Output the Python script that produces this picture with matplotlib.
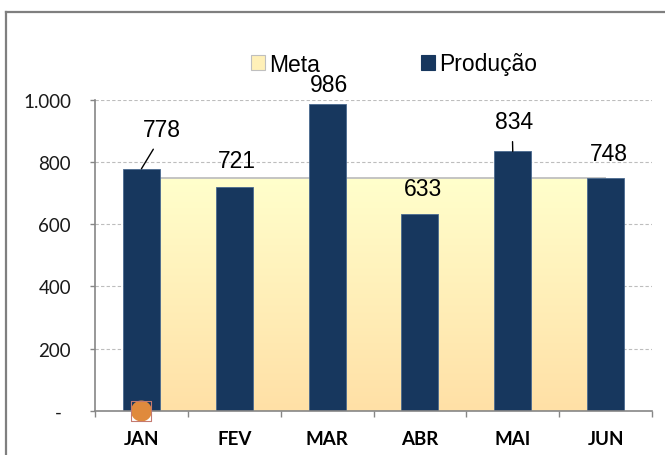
import matplotlib
matplotlib.use("Agg")
import matplotlib.pyplot as plt
import numpy as np
from matplotlib.patches import Patch
from matplotlib.lines import Line2D
from matplotlib.colors import LinearSegmentedColormap

# ---- data ----
categories = ["JAN", "FEV", "MAR", "ABR", "MAI", "JUN"]
producao = [778, 721, 986, 633, 834, 748]
meta = [750, 750, 750, 750, 750, 750]
ytick_values = [0, 200, 400, 600, 800, 1000]
ytick_labels = ["-  ", "200", "400", "600", "800", "1.000"]
marker_category = 0   # orange marker sits on JAN
marker_value = 0

# label offsets in pixels (dx, dy) relative to bar top
label_offsets = [(20.5, 39), (2.5, 26), (2, 20), (3, 25), (1.5, 30), (3, 25)]
leader = [True, False, False, False, True, False]

DPI = 100
fig = plt.figure(figsize=(6.65, 4.56), dpi=DPI)
W, H = 665, 456
ax = fig.add_axes([95 / W, 1 - 412 / H, (652 - 95) / W, (412 - 100.7) / H])

x = np.arange(len(categories))
ax.set_xlim(-0.5, len(categories) - 0.5)
ax.set_ylim(0, 1000)

# grid
for v in ytick_values[1:]:
    ax.axhline(v, color="#BDBDBD", lw=0.8, ls=(0, (3, 2)), zorder=0.5)

# meta area with vertical gradient
poly = ax.fill_between(x, 0, meta, color="none", lw=0, zorder=1)
cmap = LinearSegmentedColormap.from_list("g", ["#FFE0A6", "#FFFFCC"])
grad = np.linspace(0, 1, 256).reshape(-1, 1)
im = ax.imshow(grad, cmap=cmap, aspect="auto", origin="lower",
               extent=[x[0], x[-1], 0, max(meta)], zorder=1, interpolation="bilinear")
im.set_clip_path(poly.get_paths()[0], transform=ax.transData)
ax.plot(x, meta, color="#BFBFBF", lw=1.3, zorder=1.5, solid_capstyle="butt")
ax.set_xlim(-0.5, len(categories) - 0.5)
ax.set_ylim(0, 1000)

# bars
ax.bar(x, producao, width=0.4, color="#17375E", edgecolor="#4A6A90", lw=0.6, zorder=2)

# data labels
px = 72 / DPI
for i, v in enumerate(producao):
    dx, dy = label_offsets[i]
    kw = {}
    if leader[i]:
        rel = (0.4, 0) if i == 0 else (0.45, 0)
        kw["arrowprops"] = dict(arrowstyle="-", color="black", lw=1.0,
                                relpos=rel, shrinkA=6 * px, shrinkB=0)
    ax.annotate(f"{v}", xy=(x[i], v), xytext=(dx * px, dy * px),
                textcoords="offset points", ha="center", va="center",
                fontsize=16.5, family="Liberation Sans", color="black",
                zorder=5, **kw)

# axes styling
for s in ["top", "right"]:
    ax.spines[s].set_visible(False)
for s in ["left", "bottom"]:
    ax.spines[s].set_color("#868686")
    ax.spines[s].set_linewidth(1.2)
    ax.spines[s].set_zorder(3)

ax.set_yticks(ytick_values)
ax.set_yticklabels(ytick_labels, family="Lato", fontsize=13.5, color="#1A1A1A")
ax.tick_params(axis="y", direction="out", length=5 * px, width=1.0,
               color="#868686", pad=19 * px)

ax.set_xticks(np.arange(-0.5, len(categories)))
ax.set_xticklabels([])
ax.tick_params(axis="x", which="major", direction="out", length=6 * px,
               width=1.0, color="#868686")
ax.set_xticks(x, minor=True)
ax.set_xticklabels(categories, minor=True, family="Lato", fontweight="bold",
                   fontsize=13.5, color="black")
ax.tick_params(axis="x", which="minor", length=0, pad=19 * px)

# orange marker
ax.scatter([x[marker_category]], [marker_value], s=(21 * px) ** 2, marker="o",
           color="#E08A3C", zorder=6, clip_on=False, edgecolor="none")
ax.scatter([x[marker_category]], [marker_value], s=(20 * px) ** 2, marker="s",
           facecolor="none", edgecolor="#C47A70", lw=0.8, zorder=6, clip_on=False)

# legend
handles = [Patch(facecolor="#FFF0B8", edgecolor="#BFBFBF", lw=0.8),
           Patch(facecolor="#17375E", edgecolor="#17375E", lw=0.8)]
fig.legend(handles, ["Meta", "Produção"], loc="center",
           bbox_to_anchor=(394 / W, 1 - 65 / H), ncol=2, frameon=False,
           prop=dict(family="Liberation Sans", size=16.5),
           handlelength=0.6, handleheight=0.6, handletextpad=0.2,
           columnspacing=4.4, borderpad=0, borderaxespad=0)

# figure border (top & left visible)
fig.add_artist(Line2D([6 / W, 1.01], [1 - 13 / H, 1 - 13 / H], color="#7F7F7F",
                      lw=1.6, transform=fig.transFigure))
fig.add_artist(Line2D([6 / W, 6 / W], [1 - 13 / H, -0.01], color="#7F7F7F",
                      lw=1.6, transform=fig.transFigure))

fig.savefig("out.png", dpi=DPI)
